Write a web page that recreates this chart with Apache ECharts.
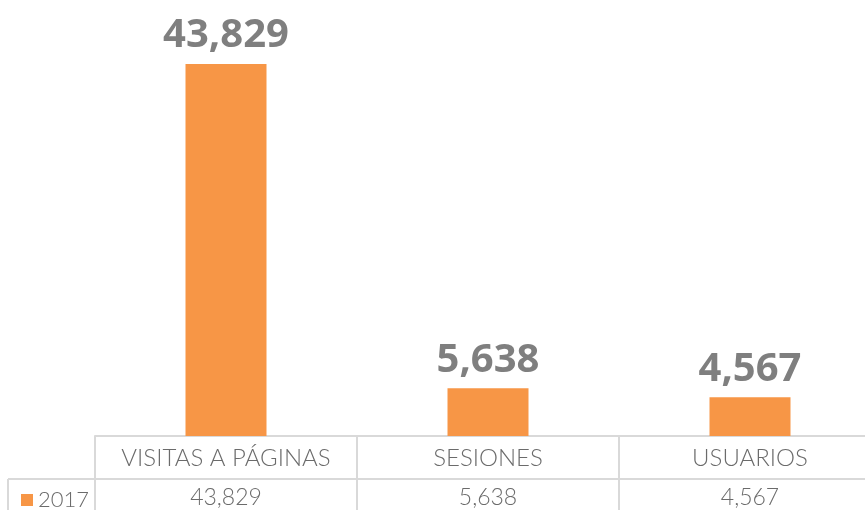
<!DOCTYPE html>
<html>
<head>
<meta charset="utf-8">
<script src="https://cdn.jsdelivr.net/npm/echarts@6/dist/echarts.min.js"></script>
<style>
  html, body { margin: 0; padding: 0; background: #fff; }
  #chart { width: 865px; height: 510px; }
</style>
</head>
<body>
<div id="chart"></div>
<script>
// Web traffic summary for 2017, with a data table under the bars
const categories = ['VISITAS A PÁGINAS', 'SESIONES', 'USUARIOS'];
const seriesName = '2017';
const values = [43829, 5638, 4567];

const fmt = v => v.toLocaleString('en-US');
const LINE = '#d9d9d9';
const TEXT = '#6b6b6b';
const thinFont = 'Lato, "Open Sans", sans-serif';

const chart = echarts.init(document.getElementById('chart'), null, { renderer: 'canvas' });

chart.setOption({
  animation: false,
  backgroundColor: '#ffffff',
  // plot area runs a little past the right edge of the canvas
  grid: { left: 95, width: 786, top: 11.6, bottom: 74, outerBoundsMode: 'none', containLabel: false },
  legend: {
    data: [seriesName],
    left: 16, top: 484,
    icon: 'rect', itemWidth: 12, itemHeight: 12, itemGap: 5,
    textStyle: { fontFamily: thinFont, fontWeight: 300, fontSize: 22, color: TEXT }
  },
  xAxis: [
    {
      type: 'category',
      data: categories,
      axisLine: { show: true, lineStyle: { color: LINE, width: 2 } },
      axisTick: { show: false },
      axisLabel: {
        margin: 10, fontFamily: thinFont, fontWeight: 300, fontSize: 24,
        color: TEXT, interval: 0
      }
    },
    {
      type: 'category',
      position: 'bottom',
      offset: 43,
      data: values.map(fmt),
      axisLine: { show: false },
      axisTick: { show: false },
      axisLabel: {
        margin: 7, fontFamily: thinFont, fontWeight: 300, fontSize: 23,
        color: TEXT, interval: 0
      }
    }
  ],
  yAxis: { type: 'value', min: 0, max: 50000, show: false, splitLine: { show: false } },
  series: [{
    name: seriesName,
    type: 'bar',
    data: values,
    barWidth: 81,
    itemStyle: { color: '#F79646' },
    label: {
      show: true, position: 'top', distance: 8,
      formatter: p => fmt(p.value),
      fontFamily: '"Open Sans", sans-serif', fontWeight: 'bold', fontSize: 40,
      color: '#7f7f7f'
    }
  }]
});

// Data table grid lines, placed from the category axis scale
function drawTable() {
  const c0 = chart.convertToPixel({ xAxisIndex: 0 }, 0);
  const c1 = chart.convertToPixel({ xAxisIndex: 0 }, 1);
  const band = c1 - c0;
  const yAxisPx = chart.convertToPixel({ yAxisIndex: 0 }, 0);
  const rowY = yAxisPx + 43;
  const W = chart.getWidth(), H = chart.getHeight();
  const els = [];
  categories.forEach((_, i) => {
    const x = chart.convertToPixel({ xAxisIndex: 0 }, i) - band / 2;
    els.push({ type: 'line', shape: { x1: x, y1: yAxisPx, x2: x, y2: H }, style: { stroke: LINE, lineWidth: 2 } });
  });
  els.push({ type: 'line', shape: { x1: 8, y1: rowY, x2: W, y2: rowY }, style: { stroke: LINE, lineWidth: 2 } });
  els.push({ type: 'line', shape: { x1: 8, y1: rowY, x2: 8, y2: H }, style: { stroke: LINE, lineWidth: 2 } });
  chart.setOption({ graphic: els });
}
drawTable();
</script>
</body>
</html>
